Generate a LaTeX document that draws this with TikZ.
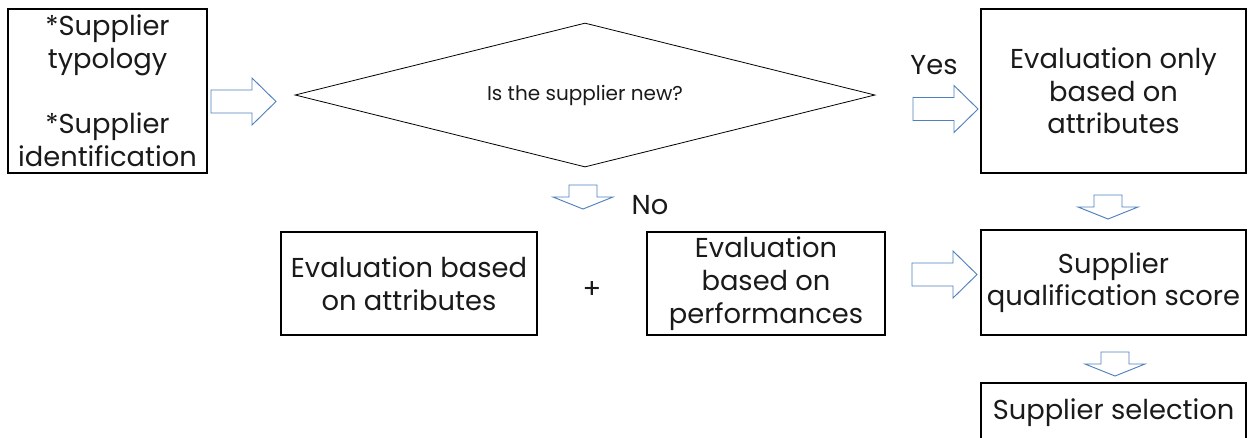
\documentclass[tikz,border=0pt]{standalone}
\usepackage{fontspec}
\setmainfont{Poppins}
\usetikzlibrary{shapes.geometric}
\definecolor{arrowblue}{HTML}{4F81BD}
\definecolor{inktext}{HTML}{1A1A1A}

\begin{document}
\begin{tikzpicture}[x=0.75pt,y=-0.75pt,
  box/.style={draw=black, line width=2pt, inner sep=0pt, align=center,
    text=inktext, font=\fontsize{20.5}{24.5}\selectfont},
  decision/.style={diamond, draw=black, line width=0.6pt, inner sep=0pt,
    shape aspect=4, minimum width={580*0.75pt}, minimum height={144*0.75pt},
    text=inktext, font=\fontsize{15}{18}\selectfont},
  lbl/.style={text=inktext, inner sep=0pt, font=\fontsize{20.5}{24.5}\selectfont},
  blockarrow/.style={draw=arrowblue, fill=white, line width=0.7pt, line join=miter},
  rarrow/.pic={\draw[blockarrow] (0,-11.5) -- (41,-11.5) -- (41,-23.5) -- (65,0)
      -- (41,23.5) -- (41,11.5) -- (0,11.5) -- cycle;},
  darrow/.pic={\draw[blockarrow] (-14,0) -- (14,0) -- (14,12) -- (30,12) -- (0,24)
      -- (-30,12) -- (-14,12) -- cycle;},
]
\clip (0,0) rectangle (1252,437);

% input box
\node[box, minimum width={199*0.75pt}, minimum height={164*0.75pt}] (src) at (107.5,91)
  {*Supplier\\typology\\[24.5pt]*Supplier\\identification};

% decision
\node[decision] (dia) at (585,95) {Is the supplier new?};

% outcome of a new supplier
\node[box, minimum width={265*0.75pt}, minimum height={164*0.75pt}] (onlyattr) at (1113.5,91)
  {Evaluation only\\based on\\attributes};

% outcome of a known supplier
\node[box, minimum width={256*0.75pt}, minimum height={103*0.75pt}] (attr) at (409,283.5)
  {Evaluation based\\on attributes};
\node[lbl] (plus) at (592,290) {+};
\node[box, minimum width={238*0.75pt}, minimum height={103*0.75pt}] (perf) at (766,283.5)
  {Evaluation\\based on\\performances};

% scoring and selection
\node[box, minimum width={265*0.75pt}, minimum height={105*0.75pt}] (score) at (1113.5,282.5)
  {Supplier\\qualification score};
\node[box, minimum width={265*0.75pt}, minimum height={60*0.75pt}] (select) at (1113.5,413)
  {Supplier selection};

% branch labels
\node[lbl] (yes) at (934,65) {Yes};
\node[lbl] (no) at (650,205) {No};

% block arrows
\pic at (211,101.5) {rarrow};
\pic at (913,109) {rarrow};
\pic at (912,274.5) {rarrow};
\pic at (583,185) {darrow};
\pic at (1108,195) {darrow};
\pic at (1115,352) {darrow};
\end{tikzpicture}
\end{document}
